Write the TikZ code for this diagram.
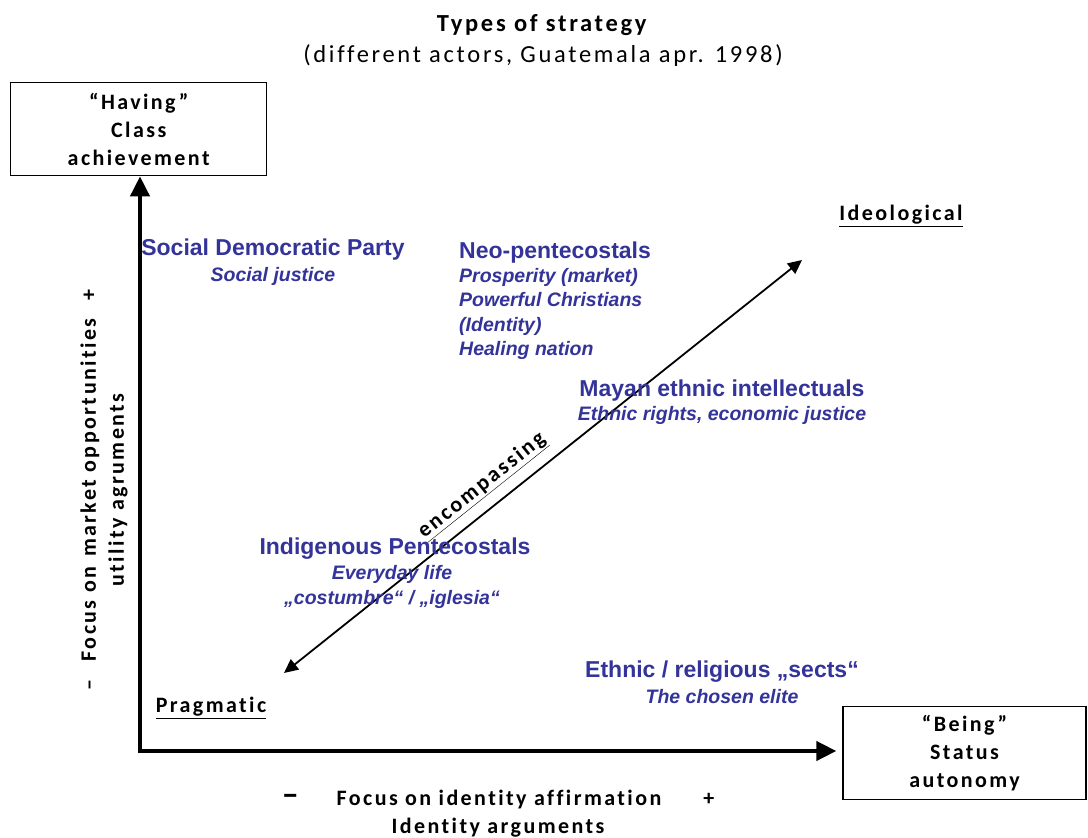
\documentclass[tikz,border=0pt]{standalone}
\usepackage{fontspec}
\setmainfont{Carlito}
\newfontfamily\spacedfont[LetterSpace=11, Ligatures=NoCommon]{Carlito}
\newfontfamily\actorfont{Liberation Sans}
\usetikzlibrary{arrows.meta, positioning, calc}
\definecolor{actorblue}{RGB}{51,51,153}

\begin{document}
\begin{tikzpicture}[x=1pt, y=-1pt,
  axislabel/.style={font=\spacedfont\bfseries\fontsize{22}{28}\selectfont, align=center, inner sep=0pt},
  pole/.style={draw, line width=1.3pt, minimum width=256pt, minimum height=93pt, axislabel},
  actor/.style={text=actorblue, font=\actorfont\bfseries\fontsize{23}{27}\selectfont, inner sep=0pt},
  motto/.style={text=actorblue, font=\actorfont\bfseries\itshape\fontsize{19.5}{24.5}\selectfont, inner sep=0pt},
  axis/.style={line width=4pt, line cap=rect, -{Triangle[length=20pt, width=19pt]}},
  diag/.style={line width=1.8pt, {Triangle[length=14pt, width=13pt]}-{Triangle[length=14pt, width=13pt]}}
]
\useasboundingbox (0,0) rectangle (1088,838);

% title
\node[font=\spacedfont\fontsize{24.5}{31}\selectfont, align=center] (title) at (543,40)
  {\textbf{Types of strategy}\\(different actors, Guatemala apr. 1998)};

% poles and axes
\node[pole] (having) at (138.7,129.2) {“Having”\\Class\\achievement};
\node[pole, minimum width=243pt, minimum height=93pt] (being) at (964.5,753) {“Being”\\Status\\autonomy};
\coordinate (origin) at (140,751);
\draw[axis] (origin) -- (origin |- having.south);
\draw[axis, shorten >=6pt] (origin) -- (origin -| being.west);

\node[axislabel, rotate=90] (ylabel) at (104,490)
  {–\hspace{18pt}Focus on\hspace{10pt}market opportunities\hspace{18pt}+\\utility agruments};
\node[axislabel] (xlabel) at (498,814)
  {{\fontsize{34}{28}\selectfont –}\hspace{38pt}Focus on identity affirmation\hspace{42pt}+\\Identity arguments};

% diagonal
\node[axislabel] (ideo) at (901,216) {\underline{Ideological}};
\node[axislabel] (prag) at (211,708) {\underline{Pragmatic}};
\coordinate (pragtip) at (284,673);
\coordinate (ideotip) at (802,260);
\draw[diag] (pragtip) -- node[axislabel, sloped, above=11pt, pos=0.41] (encomp) {\underline{encompassing}} (ideotip);

% actors
\node[actor] (socdem) at (273,250) {Social Democratic Party};
\node[motto] (socdemm) at (273,276) {Social justice};
\node[actor, anchor=west] (neo) at (459,253) {Neo-pentecostals};
\node[motto, anchor=north west, align=left] (neom) at (459,268)
  {Prosperity (market)\\Powerful Christians\\(Identity)\\Healing nation};
\node[actor] (mayan) at (722,391) {Mayan ethnic intellectuals};
\node[motto] (mayanm) at (722,415) {Ethnic rights, economic justice};
\node[actor] (indig) at (395,549) {Indigenous Pentecostals};
\node[motto, align=center] (indigm) at (392,587) {Everyday life\\„costumbre“ / „iglesia“};
\node[actor] (sects) at (722,672) {Ethnic / religious „sects“};
\node[motto] (sectsm) at (722,697) {The chosen elite};
\end{tikzpicture}
\end{document}
